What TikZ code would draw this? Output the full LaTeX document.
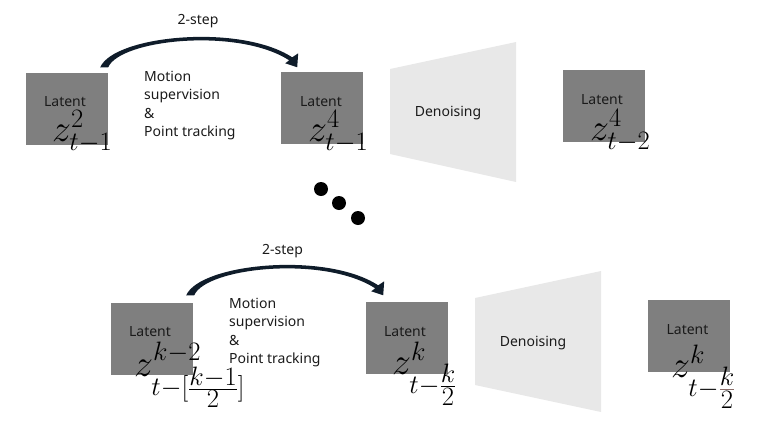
\RequirePackage{fix-cm}
\documentclass[tikz,border=0pt]{standalone}
\usepackage{amsmath}
\usepackage[no-math]{fontspec}
\setmainfont{Noto Sans}
\usetikzlibrary{calc}
\definecolor{boxgray}{HTML}{7F7F7F}
\definecolor{trapgray}{HTML}{E8E8E8}
\definecolor{txtdark}{HTML}{1A1A1A}
\definecolor{arrowdark}{HTML}{0F1C2A}
\definecolor{barbrown}{HTML}{8C6E6A}
\begin{document}
\begin{tikzpicture}[x=1pt,y=-1pt,
  latentbox/.style={rectangle,fill=boxgray,draw=none,minimum width=82pt,minimum height=72pt,inner sep=0pt},
  lbl/.style={inner sep=0pt,anchor=base,text=txtdark,font=\fontsize{14}{17}\selectfont},
  mtext/.style={inner sep=0pt,anchor=north west,align=left,text=txtdark,font=\fontsize{14}{18.3}\selectfont},
  mathlbl/.style={inner sep=0pt,anchor=base west,font=\fontsize{38}{44}\selectfont},
  dotnode/.style={circle,fill=black,minimum size=14pt,inner sep=0pt},
  trap/.style={fill=trapgray,draw=none},
  curvarrow/.pic={
    \fill[arrowdark] (0,0) .. controls (14,-32) and (140,-44) .. (192,-10)
      -- (198,-14) -- (197,0) -- (185,-4) -- (189,-7)
      .. controls (138,-40) and (20,-28) .. (8,0) -- cycle;
  }
]
\useasboundingbox (0,0) rectangle (772,437);

% ---------- top row ----------
\node[latentbox] (b1) at (67,108.5) {};
\node[latentbox] (b2) at (322,108) {};
\node[latentbox] (b3) at (604,106) {};
\fill[trap] (390,69) -- (516,42) -- (516,182) -- (390,154) -- cycle;
\node[lbl] (den1) at (448,116) {Denoising};

\node[lbl] (l1) at (65,106) {Latent};
\node[lbl] (l2) at (321,106) {Latent};
\node[lbl] (l3) at (602,104) {Latent};

\node[mathlbl] (m1) at (52,141) {$z^{2}_{t-1}$};
\node[mathlbl] (m2) at (308,141) {$z^{4}_{t-1}$};
\node[mathlbl] (m3) at (590,140) {$z^{4}_{t-2}$};

\coordinate (s1) at ($(b1.north east)+(-8,-5)$);
\pic at (s1) {curvarrow};
\node[lbl] (st1) at (198,24) {2-step};
\node[mtext] (mo1) at (144,71) {Motion\\supervision\\\&\\Point tracking};

% ---------- dots ----------
\node[dotnode] (d1) at (321,189) {};
\node[dotnode] (d2) at (339,203) {};
\node[dotnode] (d3) at (358,218) {};

% ---------- bottom row ----------
\node[latentbox] (b4) at (152,338.5) {};
\node[latentbox] (b5) at (407,338) {};
\node[latentbox] (b6) at (688.5,336) {};
\fill[trap] (475,298) -- (601,271) -- (601,412) -- (475,385) -- cycle;
\node[lbl] (den2) at (533,346) {Denoising};

\node[lbl] (l4) at (150,336) {Latent};
\node[lbl] (l5) at (405,336) {Latent};
\node[lbl] (l6) at (687.5,334) {Latent};

\node[mathlbl] (m4) at (134,376) {$z^{k-2}_{t-[\frac{\scriptstyle k-1}{\scriptstyle 2}]}$};
\node[mathlbl] (m5) at (392,374) {$z^{k}_{t-\frac{\scriptstyle k}{\scriptstyle 2}}$};
\node[mathlbl] (m6) at (671,377) {$z^{k}_{t-{\color{barbrown}\frac{\color{black}\scriptstyle k}{\color{black}\scriptstyle 2}}}$};

\coordinate (s2) at ($(b4.north east)+(-7,-7)$);
\pic at (s2) {curvarrow};
\node[lbl] (st2) at (282.5,254) {2-step};
\node[mtext] (mo2) at (229,298) {Motion\\supervision\\\&\\Point tracking};
\end{tikzpicture}
\end{document}
